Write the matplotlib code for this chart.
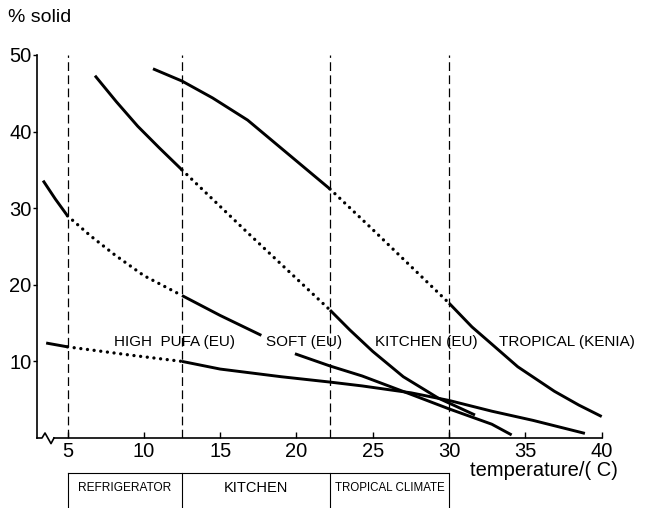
import numpy as np
import matplotlib
matplotlib.use("Agg")
from matplotlib import pyplot as plt
from matplotlib import transforms

plt.rcParams["font.family"] = ["Liberation Sans", "DejaVu Sans"]

# % solid fat vs temperature
soft_x = [3.4, 4.2, 5.0, 6.5, 8.1, 10.0, 12.5, 15.0, 17.7, 18.8, 19.9, 22.2, 24.3, 27.5, 30.0, 32.8, 34.1]
soft_y = [33.6, 31.2, 29.0, 26.4, 23.9, 21.2, 18.6, 16.0, 13.4, np.nan, 11.0, 9.4, 8.1, 5.7, 3.8, 1.8, 0.4]
soft_dotted = (5.0, 12.5)

kitchen_x = [6.8, 8.2, 9.6, 11.0, 12.5, 16.8, 22.2, 23.5, 25.0, 27.0, 29.3, 31.7]
kitchen_y = [47.3, 43.9, 40.7, 37.9, 35.0, 26.8, 16.7, 14.1, 11.3, 8.0, 5.2, 3.0]
kitchen_dotted = (12.5, 22.2)

tropical_x = [10.6, 12.5, 14.5, 16.8, 19.5, 22.2, 24.9, 30.0, 31.5, 32.6, 34.5, 36.9, 38.5, 40.0]
tropical_y = [48.2, 46.6, 44.4, 41.5, 37.0, 32.5, 27.4, 17.6, 14.5, 12.6, 9.3, 6.1, 4.3, 2.8]
tropical_dotted = (22.2, 30.0)

pufa_x = [3.6, 5.0, 9.2, 12.5, 15.0, 19.0, 22.2, 24.3, 27.5, 30.0, 32.8, 35.5, 38.9]
pufa_y = [12.4, 11.9, 10.8, 10.0, 9.0, 8.0, 7.3, 6.8, 5.9, 4.9, 3.5, 2.3, 0.6]
pufa_dotted = (5.0, 12.5)

curve_names = ["HIGH  PUFA (EU)", "SOFT (EU)", "KITCHEN (EU)", "TROPICAL (KENIA)"]
name_x = [12.0, 20.5, 28.5, 37.7]
name_y = 12.5

climate_edges = [5.0, 12.5, 22.2, 30.0]
climate_names = ["REFRIGERATOR", "KITCHEN", "TROPICAL CLIMATE"]
climate_sizes = [8.6, 10.5, 8.3]

x_ticks = [5, 10, 15, 20, 25, 30, 35, 40]
y_ticks = [10, 20, 30, 40, 50]

fig = plt.figure(figsize=(6.48, 5.08), dpi=100)
ax = fig.add_axes([37 / 648, 1 - 438 / 508, 564.7 / 648, 383 / 508])
ax.set_xlim(3.0, 40.0)
ax.set_ylim(0, 50)


def draw_curve(xs, ys, dotted):
    xs = np.array(xs)
    ys = np.array(ys)
    d0, d1 = dotted
    left = xs <= d0
    mid = (xs >= d0) & (xs <= d1)
    right = xs >= d1
    for m in (left, right):
        ax.plot(xs[m], ys[m], color="black", lw=2.1, solid_capstyle="butt",
                solid_joinstyle="round", clip_on=False)
    ax.plot(xs[mid], ys[mid], color="black", lw=2.4, linestyle=(0, (0.01, 2.0)),
            dash_capstyle="round", clip_on=False)


draw_curve(pufa_x, pufa_y, pufa_dotted)
draw_curve(soft_x, soft_y, soft_dotted)
draw_curve(kitchen_x, kitchen_y, kitchen_dotted)
draw_curve(tropical_x, tropical_y, tropical_dotted)

ax.vlines(climate_edges, 0, 50, color="black", lw=0.9, linestyles=[(0, (7, 3.5))])

for name, x in zip(curve_names, name_x):
    ax.text(x, name_y, name, ha="center", va="center", fontsize=11)

# axes
for s in ["top", "right"]:
    ax.spines[s].set_visible(False)
ax.spines["left"].set_linewidth(1.2)
ax.spines["bottom"].set_linewidth(1.2)
ax.spines["bottom"].set_bounds(3.0 + 17 / 15.27, 40)
ax.set_xticks(x_ticks)
ax.set_yticks(y_ticks)
ax.tick_params(axis="x", direction="in", length=4, width=1, pad=3, labelsize=14.5)
ax.tick_params(axis="y", direction="out", length=3, width=1, pad=1, labelsize=14.5)

# axis break zigzag (pixel offsets from the corner)
zx = np.array([0, 5, 8, 14, 17]) / 564.7
zy = np.array([0, 0, 5, -5.6, 0]) / 383.0
ax.plot(zx, zy, color="black", lw=1.2, transform=ax.transAxes, clip_on=False)

fig.text(8 / 648, 1 - 18 / 508, "% solid", fontsize=14, ha="left", va="center")
fig.text(470 / 648, 1 - 471 / 508, "temperature/( C)", fontsize=14.5, ha="left", va="center")

# climate boxes under the axis
tr = transforms.blended_transform_factory(ax.transData, fig.transFigure)
box_top = 1 - 473 / 508
ax.plot([climate_edges[0], climate_edges[-1]], [box_top, box_top], color="black", lw=0.8,
        transform=tr, clip_on=False)
for e in climate_edges:
    ax.plot([e, e], [0, box_top], color="black", lw=0.8, transform=tr, clip_on=False)
for i, name in enumerate(climate_names):
    xc = (climate_edges[i] + climate_edges[i + 1]) / 2
    ax.text(xc, 1 - 488 / 508, name, ha="center", va="center", fontsize=climate_sizes[i],
            transform=tr)

fig.savefig("out.png", dpi=100)
